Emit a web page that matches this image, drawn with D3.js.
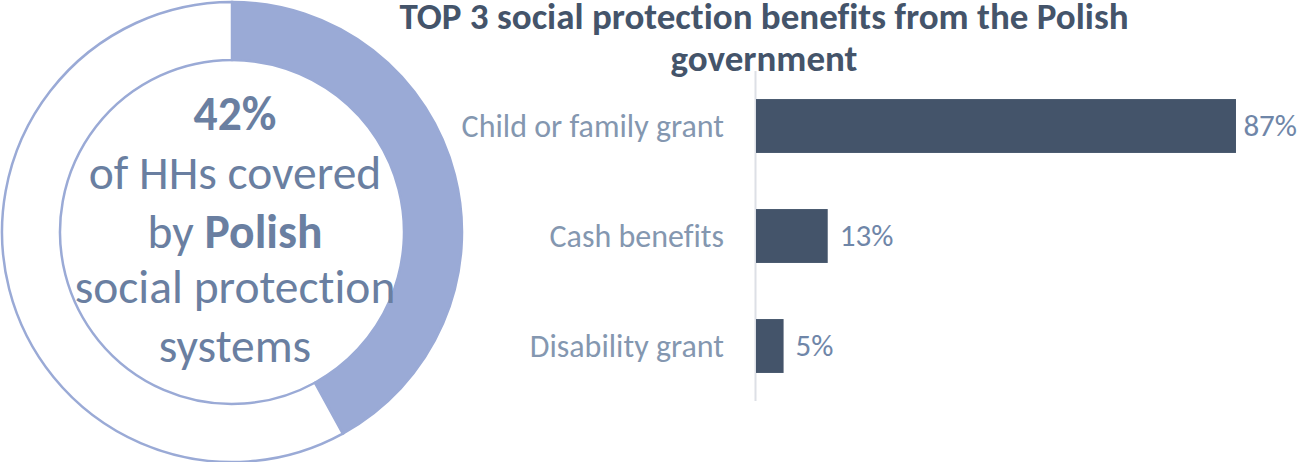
<!DOCTYPE html>
<html>
<head>
<meta charset="utf-8">
<script src="https://cdn.jsdelivr.net/npm/d3@7"></script>
<style>
  html, body { margin: 0; padding: 0; background: #ffffff; }
  svg { display: block; font-family: Carlito, "Open Sans", Lato, sans-serif; font-variant-ligatures: none; }
</style>
</head>
<body>
<svg id="chart" width="1299" height="462"></svg>
<script>
// Share of households covered by the Polish social protection system
const coverageShare = 42;
const coverageLines = [
  [{ t: "42%", b: true }],
  [{ t: "of HHs covered", b: false }],
  [{ t: "by ", b: false }, { t: "Polish", b: true }],
  [{ t: "social protection", b: false }],
  [{ t: "systems", b: false }]
];

// Top 3 benefits
const titleLines = ["TOP 3 social protection benefits from the Polish", "government"];
const benefitNames = ["Child or family grant", "Cash benefits", "Disability grant"];
const benefitValues = [87, 13, 5];

const svg = d3.select("#chart");

// ---- Donut ----
const cx = 232, cy = 232, rOuter = 230, rInner = 172;
const ringColor = "#9AAAD6";
const donut = svg.append("g").attr("transform", `translate(${cx},${cy})`);

const pie = d3.pie().sort(null).value(d => d)([coverageShare, 100 - coverageShare]);
const arc = d3.arc().innerRadius(rInner).outerRadius(rOuter);

donut.selectAll("path.slice")
  .data(pie)
  .join("path")
  .attr("class", "slice")
  .attr("d", arc)
  .attr("fill", (d, i) => i === 0 ? ringColor : "#ffffff")
  .attr("stroke", ringColor)
  .attr("stroke-width", 2.5);

const centerText = donut.append("text")
  .attr("text-anchor", "middle")
  .attr("fill", "#6A7FA1")
  .attr("font-size", 47.5);
const lineY = [-102, -43, 16, 71, 130];
coverageLines.forEach((parts, i) => {
  const line = centerText.append("tspan").attr("x", 3).attr("y", lineY[i]);
  parts.forEach(p => line.append("tspan").attr("font-weight", p.b ? 700 : 400).text(p.t));
});

// ---- Bar chart ----
const plotRight = 1297;
const x = d3.scaleLinear().domain([0, 100]).range([756, 756 + 551.7]);
const y = d3.scaleBand().domain(benefitNames).range([71, 401]).paddingInner(0.51).paddingOuter(0.255);

svg.append("g")
  .attr("text-anchor", "middle")
  .attr("fill", "#44546A")
  .attr("font-weight", 700)
  .attr("font-size", 37)
  .selectAll("text")
  .data(titleLines)
  .join("text")
  .attr("x", 764)
  .attr("y", (d, i) => 29 + i * 42)
  .text(d => d);

svg.append("line")
  .attr("x1", 755.5).attr("x2", 755.5)
  .attr("y1", 71).attr("y2", 401)
  .attr("stroke", "#DDE0E6")
  .attr("stroke-width", 2);

svg.append("g")
  .selectAll("rect")
  .data(benefitValues)
  .join("rect")
  .attr("x", x(0))
  .attr("y", (d, i) => y(benefitNames[i]))
  .attr("width", d => x(d) - x(0))
  .attr("height", y.bandwidth())
  .attr("fill", "#44546A");

svg.append("g")
  .attr("text-anchor", "end")
  .attr("fill", "#8497B0")
  .attr("font-size", 32)
  .selectAll("text")
  .data(benefitNames)
  .join("text")
  .attr("x", 724)
  .attr("y", d => y(d) + y.bandwidth() / 2)
  .attr("dy", "0.33em")
  .text(d => d);

// Value labels sit just past the bar end, kept inside the plot area
svg.append("g")
  .attr("fill", "#6F86A8")
  .attr("font-size", 31)
  .selectAll("text")
  .data(benefitValues)
  .join("text")
  .attr("y", (d, i) => y(benefitNames[i]) + y.bandwidth() / 2)
  .attr("dy", "0.33em")
  .text(d => d + "%")
  .attr("x", function (d) {
    const w = this.getComputedTextLength();
    return Math.min(x(d) + 12, plotRight - w);
  });
</script>
</body>
</html>
